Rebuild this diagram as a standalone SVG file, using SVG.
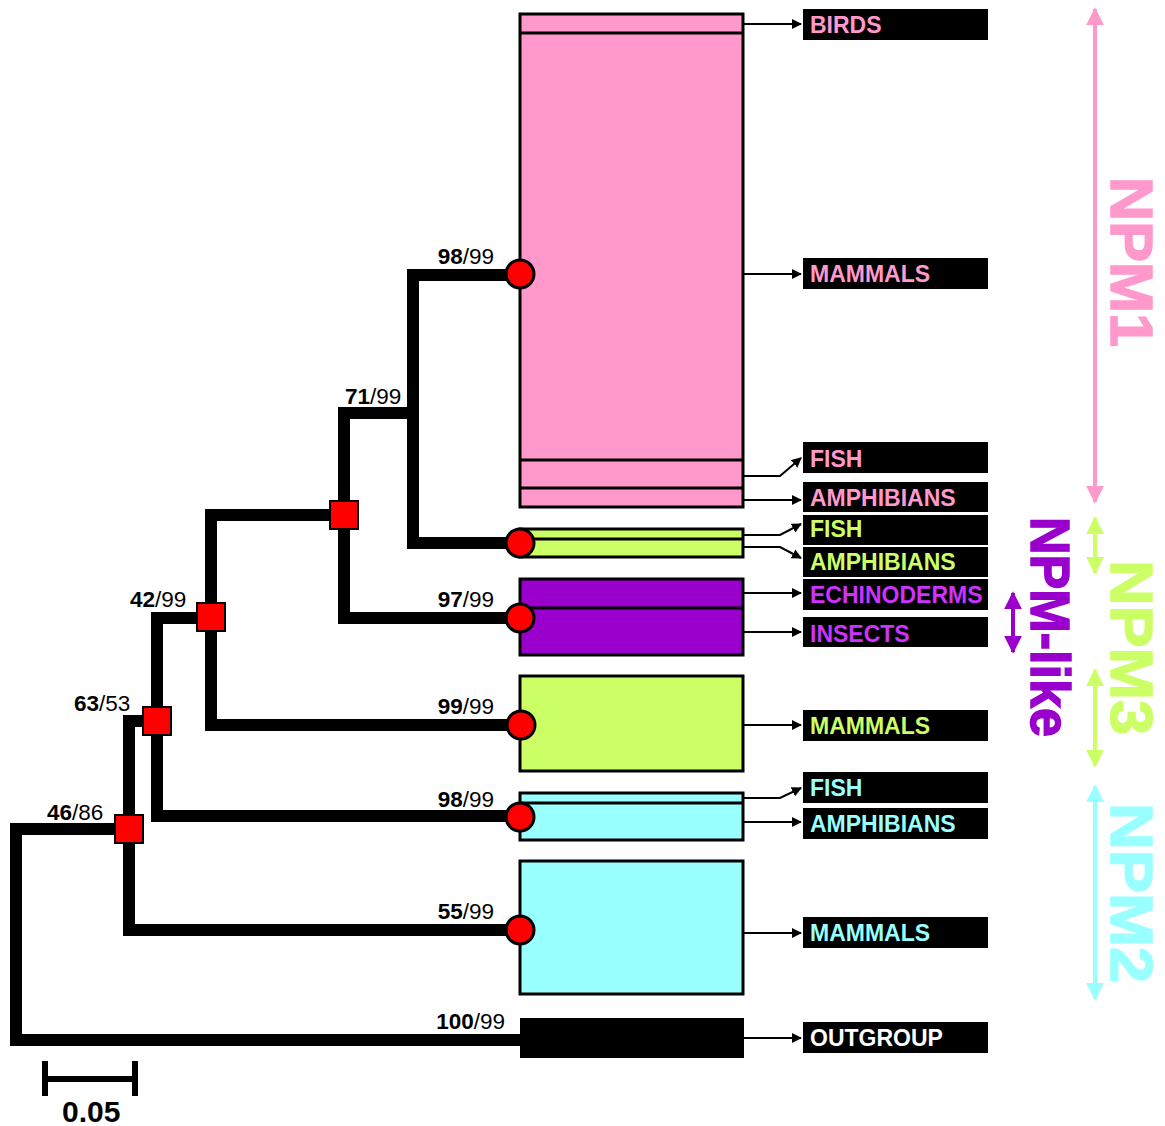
<svg xmlns="http://www.w3.org/2000/svg" width="1165" height="1126" viewBox="0 0 1165 1126">
<style>
.box{stroke:#000;stroke-width:3}
.pink{fill:#FF99CC}.green{fill:#CCFF66}.purple{fill:#9900CC}.cyan{fill:#99FFFF}
.div{stroke:#000;stroke-width:3;fill:none}
.branch{fill:none;stroke:#000;stroke-width:12;stroke-linejoin:miter;stroke-linecap:square}
.sq{fill:#FF0000;stroke:#000;stroke-width:2}
.dot{fill:#FF0000;stroke:#000;stroke-width:3}
.sup{font-family:"Liberation Sans",Arial,sans-serif;font-size:22.5px;fill:#000}
.sup tspan.b{font-weight:bold}
.lab{fill:#000}
.lt{font-family:"Liberation Sans",Arial,sans-serif;font-size:23px;font-weight:bold}
.conn{fill:none;stroke:#000;stroke-width:2}
.grp{font-family:"Liberation Sans",Arial,sans-serif;font-weight:bold;stroke-width:1.5}
</style>
<defs>
<marker id="ah" viewBox="0 0 10 10" refX="9" refY="5" markerWidth="5" markerHeight="5" orient="auto" markerUnits="strokeWidth">
<path d="M0,0 L10,5 L0,10 z" fill="#000"/>
</marker>
<marker id="pkA" viewBox="0 0 10 10" refX="9" refY="5" markerWidth="4.5" markerHeight="4.5" orient="auto-start-reverse" markerUnits="strokeWidth"><path d="M0,0 L10,5 L0,10 z" fill="#FF99CC"/></marker>
<marker id="grA" viewBox="0 0 10 10" refX="9" refY="5" markerWidth="4.5" markerHeight="4.5" orient="auto-start-reverse" markerUnits="strokeWidth"><path d="M0,0 L10,5 L0,10 z" fill="#CCFF66"/></marker>
<marker id="puA" viewBox="0 0 10 10" refX="9" refY="5" markerWidth="4.5" markerHeight="4.5" orient="auto-start-reverse" markerUnits="strokeWidth"><path d="M0,0 L10,5 L0,10 z" fill="#9900CC"/></marker>
<marker id="cyA" viewBox="0 0 10 10" refX="9" refY="5" markerWidth="4.5" markerHeight="4.5" orient="auto-start-reverse" markerUnits="strokeWidth"><path d="M0,0 L10,5 L0,10 z" fill="#99FFFF"/></marker>
</defs>
<rect width="1165" height="1126" fill="#fff"/>

<g id="clade-boxes">
<g id="npm1-box">
<rect class="box pink" x="520" y="14" width="223" height="493"/>
<path class="div" d="M520,33 H743 M520,460 H743 M520,488 H743"/>
</g>
<g id="npm3-small-box">
<rect class="box green" x="520" y="529" width="223" height="28"/>
<path class="div" d="M520,539 H743"/>
</g>
<g id="npmlike-box">
<rect class="box purple" x="520" y="579" width="223" height="76"/>
<path class="div" d="M520,608 H743"/>
</g>
<g id="npm3-mammals-box"><rect class="box green" x="520" y="676" width="223" height="95"/></g>
<g id="npm2-small-box">
<rect class="box cyan" x="520" y="793" width="223" height="47"/>
<path class="div" d="M520,803 H743"/>
</g>
<g id="npm2-mammals-box"><rect class="box cyan" x="520" y="861" width="223" height="133"/></g>
<g id="outgroup-box"><rect x="520" y="1018" width="224" height="40" fill="#000"/></g>
</g>

<g id="connectors">
<path class="branch" d="M520,1040 H16 V829 H129"/>
<path class="branch" d="M129,829 V930 H520 M129,829 V721 H157"/>
<path class="branch" d="M157,721 V816 H520 M157,721 V618 H211"/>
<path class="branch" d="M211,618 V725 H520 M211,618 V515 H344"/>
<path class="branch" d="M344,515 V618 H520 M344,515 V413 H413"/>
<path class="branch" d="M413,413 V275 H520 M413,413 V543 H520"/>

<path class="conn" marker-end="url(#ah)" d="M743,24 H801"/>
<path class="conn" marker-end="url(#ah)" d="M743,274 H801"/>
<path class="conn" marker-end="url(#ah)" d="M743,476 H780 L801,458"/>
<path class="conn" marker-end="url(#ah)" d="M743,500 H801"/>
<path class="conn" marker-end="url(#ah)" d="M743,535 H780 L801,524"/>
<path class="conn" marker-end="url(#ah)" d="M743,547 H780 L801,558"/>
<path class="conn" marker-end="url(#ah)" d="M743,593 H801"/>
<path class="conn" marker-end="url(#ah)" d="M743,632 H801"/>
<path class="conn" marker-end="url(#ah)" d="M743,725 H801"/>
<path class="conn" marker-end="url(#ah)" d="M743,798 H780 L801,788"/>
<path class="conn" marker-end="url(#ah)" d="M743,822 H801"/>
<path class="conn" marker-end="url(#ah)" d="M743,933 H801"/>
<path class="conn" marker-end="url(#ah)" d="M743,1038 H801"/>
</g>

<g id="nodes">
<g id="node-46"><rect class="sq" x="115" y="815" width="28" height="28"/><text class="sup" x="47" y="820"><tspan class="b">46</tspan>/86</text></g>
<g id="node-63"><rect class="sq" x="143" y="707" width="28" height="28"/><text class="sup" x="74" y="711"><tspan class="b">63</tspan>/53</text></g>
<g id="node-42"><rect class="sq" x="197" y="603" width="28" height="28"/><text class="sup" x="130" y="607"><tspan class="b">42</tspan>/99</text></g>
<g id="node-71"><rect class="sq" x="330" y="501" width="28" height="28"/><text class="sup" x="345" y="404"><tspan class="b">71</tspan>/99</text></g>
<g id="node-npm1"><circle class="dot" cx="520" cy="274" r="14"/><text class="sup" x="494" y="264" text-anchor="end"><tspan class="b">98</tspan>/99</text></g>
<g id="node-npm3a"><circle class="dot" cx="520" cy="543" r="14"/></g>
<g id="node-npmlike"><circle class="dot" cx="520" cy="618" r="14"/><text class="sup" x="494" y="607" text-anchor="end"><tspan class="b">97</tspan>/99</text></g>
<g id="node-npm3b"><circle class="dot" cx="521" cy="725" r="14"/><text class="sup" x="494" y="714" text-anchor="end"><tspan class="b">99</tspan>/99</text></g>
<g id="node-npm2a"><circle class="dot" cx="520" cy="817" r="14"/><text class="sup" x="494" y="807" text-anchor="end"><tspan class="b">98</tspan>/99</text></g>
<g id="node-npm2b"><circle class="dot" cx="520" cy="930" r="14"/><text class="sup" x="494" y="919" text-anchor="end"><tspan class="b">55</tspan>/99</text></g>
<g id="node-outgroup"><text class="sup" x="505" y="1029" text-anchor="end"><tspan class="b">100</tspan>/99</text></g>
</g>

<g id="labels">
<g id="lab-birds"><rect class="lab" x="803" y="9" width="185" height="31"/><text class="lt" x="810" y="33" fill="#FF99CC">BIRDS</text></g>
<g id="lab-mammals1"><rect class="lab" x="803" y="258" width="185" height="31"/><text class="lt" x="810" y="282" fill="#FF99CC">MAMMALS</text></g>
<g id="lab-fish1"><rect class="lab" x="803" y="442" width="185" height="31"/><text class="lt" x="810" y="467" fill="#FF99CC">FISH</text></g>
<g id="lab-amph1"><rect class="lab" x="803" y="482" width="185" height="30"/><text class="lt" x="810" y="506" fill="#FF99CC">AMPHIBIANS</text></g>
<g id="lab-fish3"><rect class="lab" x="803" y="515" width="185" height="30"/><text class="lt" x="810" y="537" fill="#CCFF66">FISH</text></g>
<g id="lab-amph3"><rect class="lab" x="803" y="547" width="185" height="30"/><text class="lt" x="810" y="570" fill="#CCFF66">AMPHIBIANS</text></g>
<g id="lab-echino"><rect class="lab" x="803" y="579" width="185" height="31"/><text class="lt" x="810" y="603" fill="#CC33FF">ECHINODERMS</text></g>
<g id="lab-insects"><rect class="lab" x="803" y="617" width="185" height="30"/><text class="lt" x="810" y="642" fill="#CC33FF">INSECTS</text></g>
<g id="lab-mammals3"><rect class="lab" x="803" y="710" width="185" height="31"/><text class="lt" x="810" y="734" fill="#CCFF66">MAMMALS</text></g>
<g id="lab-fish2"><rect class="lab" x="803" y="772" width="185" height="31"/><text class="lt" x="810" y="796" fill="#99FFFF">FISH</text></g>
<g id="lab-amph2"><rect class="lab" x="803" y="808" width="185" height="31"/><text class="lt" x="810" y="832" fill="#99FFFF">AMPHIBIANS</text></g>
<g id="lab-mammals2"><rect class="lab" x="803" y="917" width="185" height="31"/><text class="lt" x="810" y="941" fill="#99FFFF">MAMMALS</text></g>
<g id="lab-outgroup"><rect class="lab" x="803" y="1022" width="185" height="31"/><text class="lt" x="810" y="1046" fill="#FFFFFF">OUTGROUP</text></g>
</g>

<g id="groups">
<g id="grp-npm1">
<path d="M1095,9 V502" stroke="#FF99CC" stroke-width="4" marker-start="url(#pkA)" marker-end="url(#pkA)"/>
<text class="grp" transform="translate(1111,177) rotate(90)" font-size="60" fill="#FF99CC" stroke="#FF99CC" textLength="170" lengthAdjust="spacingAndGlyphs">NPM1</text>
</g>
<g id="grp-npm3">
<path d="M1095,518 V573" stroke="#CCFF66" stroke-width="4" marker-start="url(#grA)" marker-end="url(#grA)"/>
<path d="M1095,670 V766" stroke="#CCFF66" stroke-width="4" marker-start="url(#grA)" marker-end="url(#grA)"/>
<text class="grp" transform="translate(1111,560) rotate(90)" font-size="60" fill="#CCFF66" stroke="#CCFF66" textLength="175" lengthAdjust="spacingAndGlyphs">NPM3</text>
</g>
<g id="grp-npmlike">
<path d="M1013,593 V652" stroke="#9900CC" stroke-width="4" marker-start="url(#puA)" marker-end="url(#puA)"/>
<text class="grp" transform="translate(1031,517) rotate(90)" font-size="56" fill="#9900CC" stroke="#9900CC" textLength="220" lengthAdjust="spacingAndGlyphs">NPM-like</text>
</g>
<g id="grp-npm2">
<path d="M1095,786 V999" stroke="#99FFFF" stroke-width="4" marker-start="url(#cyA)" marker-end="url(#cyA)"/>
<text class="grp" transform="translate(1111,803) rotate(90)" font-size="60" fill="#99FFFF" stroke="#99FFFF" textLength="180" lengthAdjust="spacingAndGlyphs">NPM2</text>
</g>
</g>

<g id="scale-bar">
<path d="M45,1061 V1096 M135,1061 V1096 M45,1079 H135" stroke="#000" stroke-width="6" fill="none"/>
<text x="62" y="1122" font-family="'Liberation Sans',Arial,sans-serif" font-size="30" font-weight="bold">0.05</text>
</g>
</svg>
